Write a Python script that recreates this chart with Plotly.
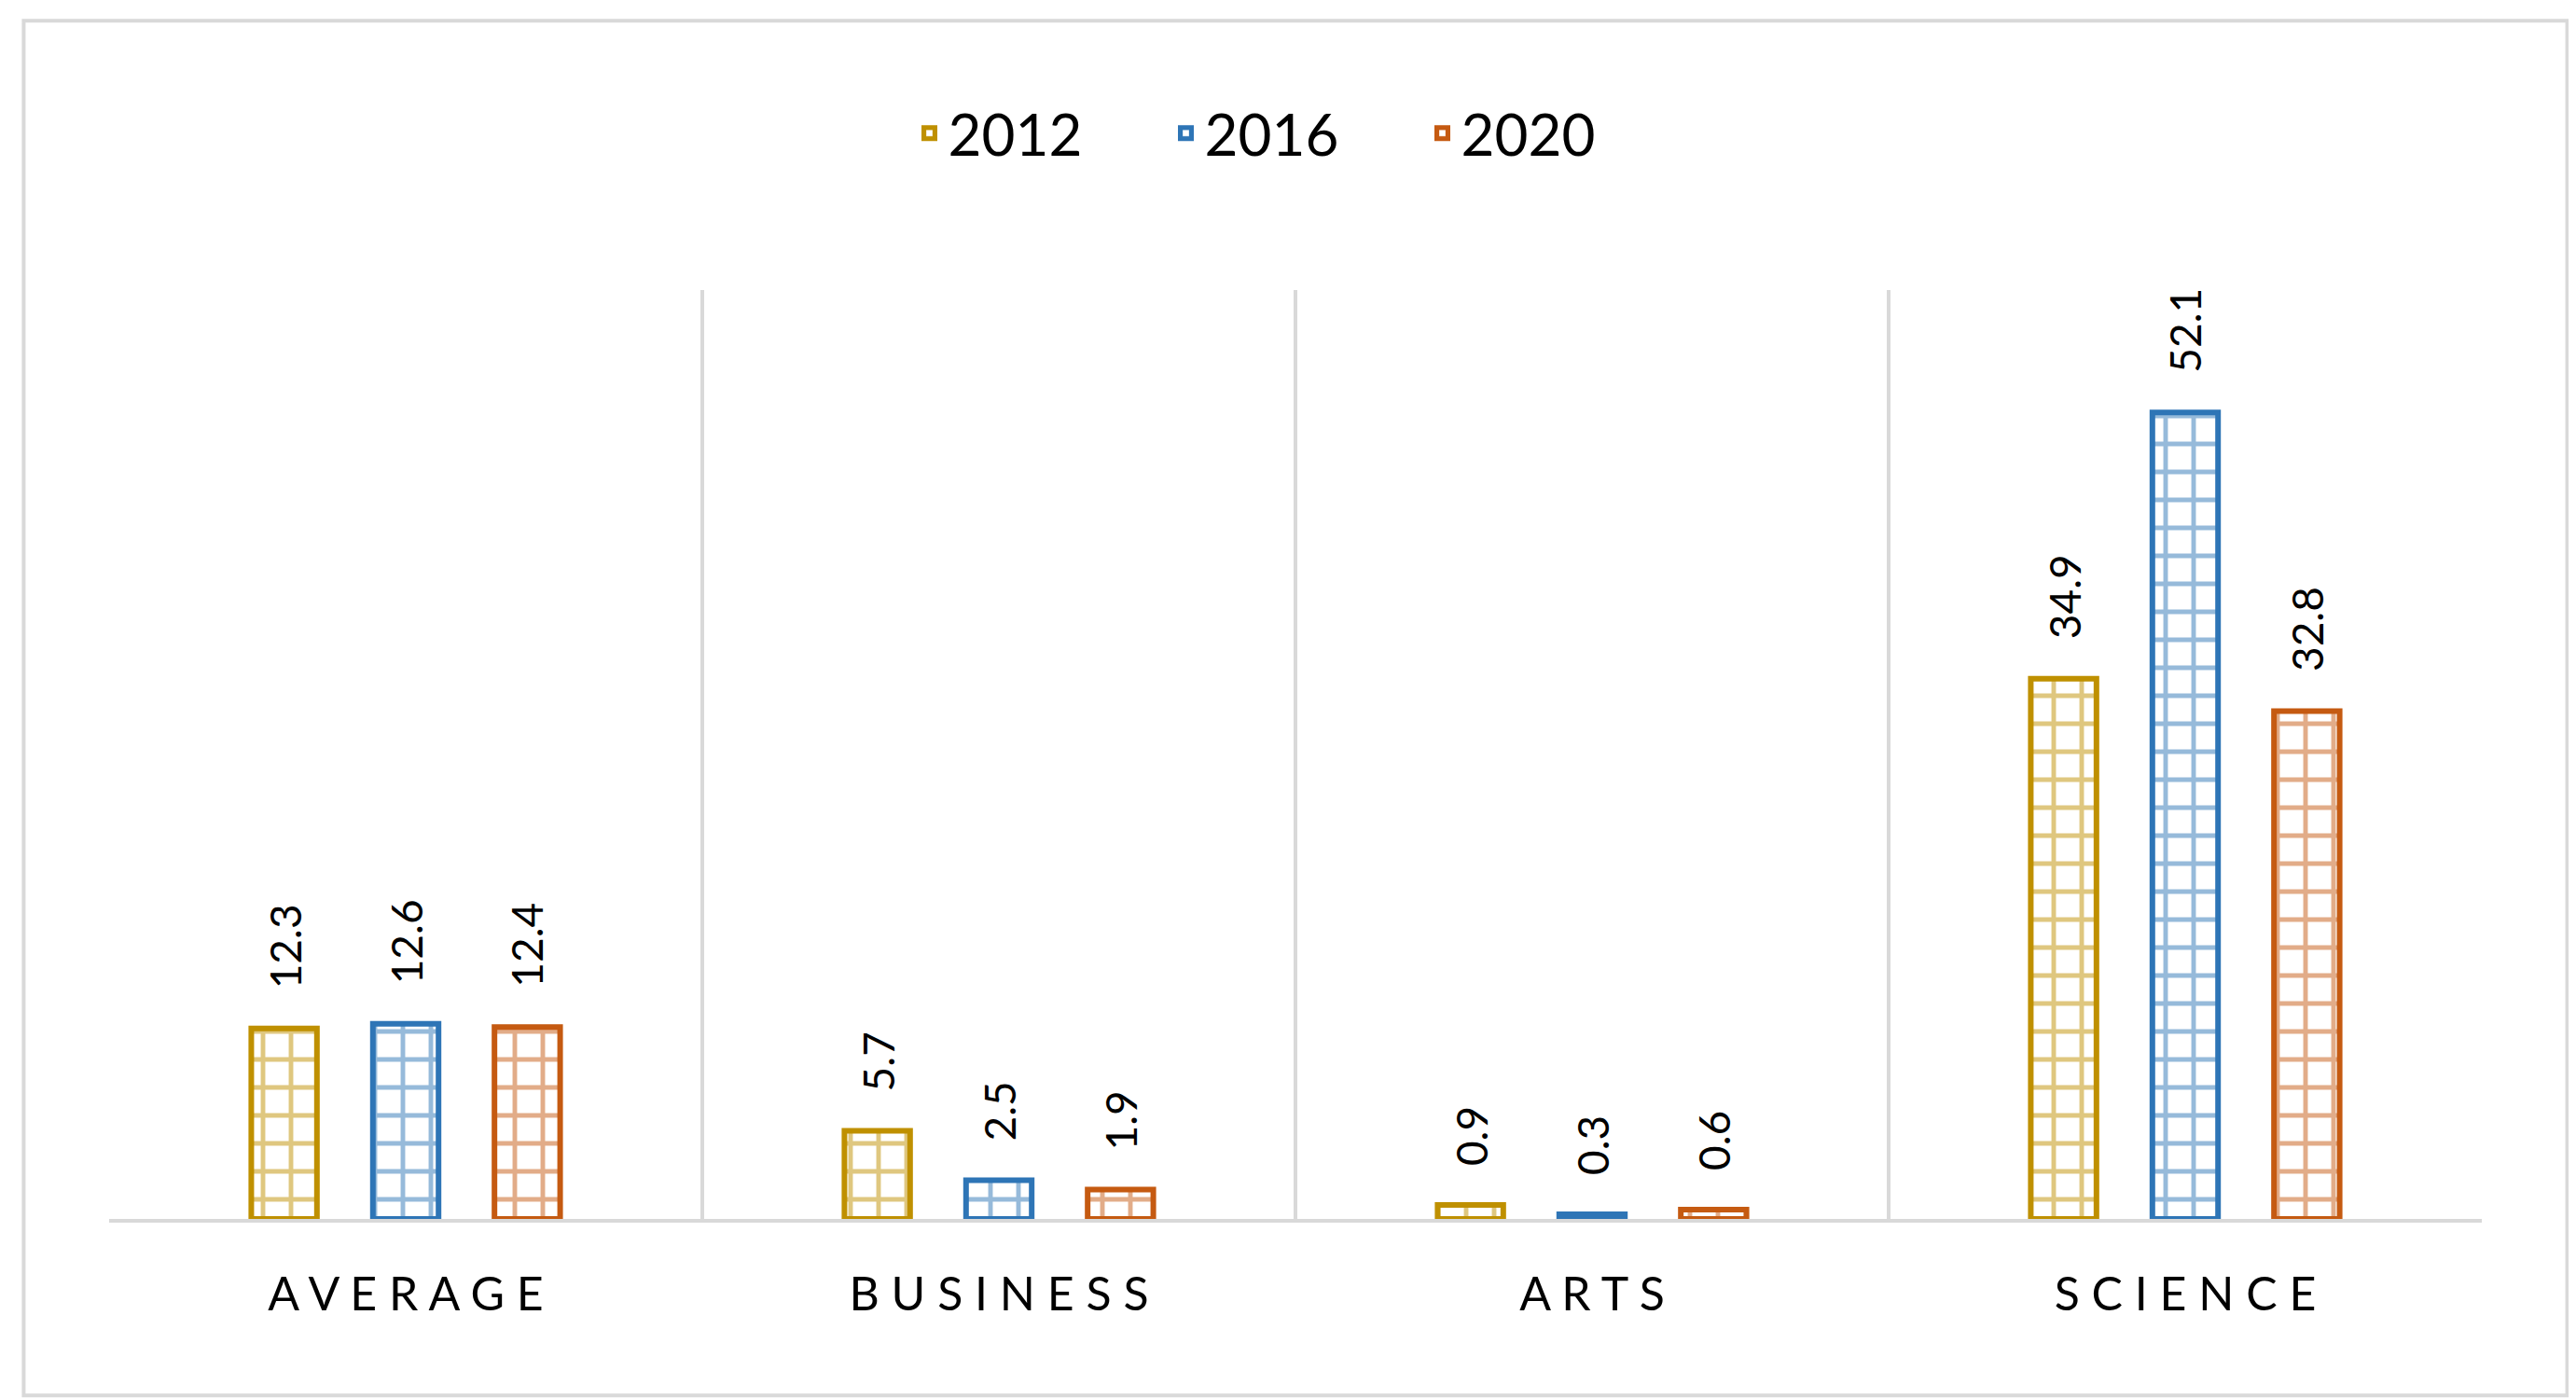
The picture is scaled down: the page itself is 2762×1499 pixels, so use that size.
import plotly.graph_objects as go

categories = ["A V E R A G E", "B U S I N E S S", "A R T S", "S C I E N C E"]
years = ["2012", "2016", "2020"]
values = {
    "2012": [12.3, 5.7, 0.9, 34.9],
    "2016": [12.6, 2.5, 0.3, 52.1],
    "2020": [12.4, 1.9, 0.6, 32.8],
}
colors = {"2012": "#BF9000", "2016": "#2E75B6", "2020": "#C55A11"}
label_shift = {"2012": -130, "2016": 0, "2020": 130}

fig = go.Figure()
annotations = []
for y in years:
    fig.add_trace(go.Bar(
        name=y, x=categories, y=values[y],
        marker=dict(color="white", line=dict(color=colors[y], width=6),
                    pattern=dict(shape="+", fgcolor=colors[y], bgcolor="white",
                                 size=30, solidity=0.3)),
    ))
    for c, v in zip(categories, values[y]):
        annotations.append(dict(x=c, y=v, xref="x", yref="y", text=f"{v:.1f}",
                                showarrow=False, textangle=-90, xshift=label_shift[y],
                                yanchor="bottom", yshift=40,
                                font=dict(size=46, color="black")))

fig.update_layout(
    width=2762, height=1499,
    margin=dict(l=109, r=109, t=303, b=200),
    paper_bgcolor="white", plot_bgcolor="white",
    font=dict(family="Lato", color="black"),
    barmode="group", bargap=0.385, bargroupgap=0.46,
    legend=dict(orientation="h", x=0.5, xanchor="center", y=0.91, yanchor="middle",
                yref="container", font=dict(size=62), bgcolor="rgba(0,0,0,0)",
                entrywidth=230),
    xaxis=dict(showgrid=True, tickson="boundaries", gridcolor="#D9D9D9", gridwidth=4,
               showline=True, linecolor="#D9D9D9", linewidth=4,
               ticks="", tickfont=dict(size=50), ticklabelstandoff=34),
    yaxis=dict(range=[0, 60], showgrid=False, showticklabels=False, zeroline=False),
    annotations=annotations,
    shapes=[dict(type="rect", xref="paper", yref="paper", x0=-0.036, x1=1.036,
                 y0=-0.19, y1=1.29, line=dict(color="#D9D9D9", width=4))],
)
fig.write_html("out.html")
